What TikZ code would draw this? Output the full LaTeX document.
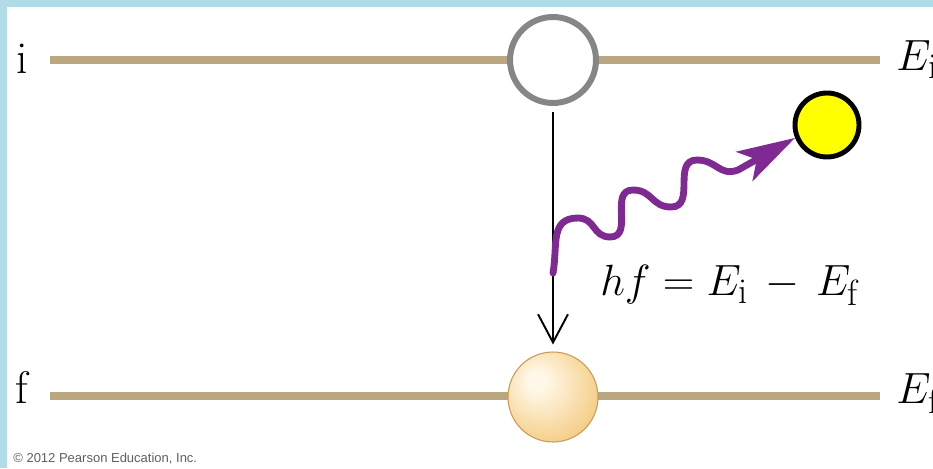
\documentclass[tikz,border=0pt]{standalone}
\usepackage{fontspec}
\newfontfamily\pearsonfont{Liberation Sans}
\usetikzlibrary{arrows.meta,positioning}
\definecolor{frameblue}{RGB}{176,220,232}
\definecolor{leveltan}{RGB}{186,167,130}
\definecolor{ringgray}{RGB}{134,134,134}
\definecolor{photonpurple}{RGB}{126,42,146}
\definecolor{ballyellow}{RGB}{255,255,0}
\definecolor{copygray}{RGB}{95,95,95}
\definecolor{sphereedge}{RGB}{200,155,85}
\definecolor{spherecore}{RGB}{255,248,232}
\definecolor{spheremid}{RGB}{245,208,140}
\definecolor{spherefill}{RGB}{232,178,92}
\pgfdeclareradialshading{sphereshade}{\pgfpoint{-10bp}{10bp}}{color(0bp)=(spherecore); color(5bp)=(spherecore); color(30bp)=(spheremid); color(60bp)=(spherefill)}
\begin{document}
\begin{tikzpicture}[x=0.02cm, y=0.02cm,
    level/.style={draw=leveltan, line width=4.5pt},
    upper state/.style={circle, draw=ringgray, line width=3.4pt, fill=white, minimum size=1.72cm, inner sep=0pt},
    lower state/.style={circle, draw=sphereedge, line width=0.6pt, shading=sphereshade, minimum size=1.8cm, inner sep=0pt},
    absorber/.style={circle, draw=black, line width=2.8pt, fill=ballyellow, minimum size=1.28cm, inner sep=0pt},
    decay/.style={line width=1.1pt, -{Straight Barb[length=16pt, width=17pt]}, shorten <=0.12cm, shorten >=0.14cm},
    photon/.style={draw=photonpurple, line width=3.9pt, line cap=round, -{Stealth[length=33pt, width=19pt, inset=8pt]}},
    level name/.style={font=\fontsize{26}{30}\selectfont, inner sep=0pt, anchor=base},
    energy text/.style={font=\Huge, inner sep=0pt, anchor=base west}]
  % fundo com moldura azul
  \useasboundingbox (0,0) rectangle (933,468);
  \fill[frameblue] (0,0) rectangle (933,468);
  \fill[white] (7,0) rectangle (933,461);
  % niveis de energia
  \coordinate (iL) at (50,408);
  \coordinate (iR) at (880,408);
  \coordinate (fL) at (50,72);
  \coordinate (fR) at (880,72);
  \draw[level] (iL) -- (iR);
  \draw[level] (fL) -- (fR);
  \node[level name] (iname) at (22,395) {i};
  \node[level name] (fname) at (22,65) {f};
  \node[energy text] (Ei) at (896,398) {$E_{\mathrm{i}}$};
  \node[energy text] (Ef) at (896,65) {$E_{\mathrm{f}}$};
  % estados e transicao
  \node[upper state] (upper) at (553,408) {};
  \node[lower state] (lower) at (553,71) {};
  \draw[decay] (upper) -- (lower);
  % foton emitido
  \node[absorber] (ball) at (827,343) {};
  \coordinate (emit) at (553,195);
  \draw[photon, looseness=1.2] (emit) to[out=80,in=180] (578,250) to[out=0,in=180] (610,231)
    to[out=0,in=180] (633,278) to[out=0,in=180] (671,261)
    to[out=0,in=180] (697,308) to[out=0,in=200] (738,298) -- (ball.202);
  \node[energy text] (eq) at (600,173) {$hf = E_{\mathrm{i}} \,-\, E_{\mathrm{f}}$};
  \node[font=\pearsonfont\fontsize{7.4}{9}\selectfont, text=copygray, anchor=base west, inner sep=0pt] (copy) at (13,6) {© 2012 Pearson Education, Inc.};
\end{tikzpicture}
\end{document}
